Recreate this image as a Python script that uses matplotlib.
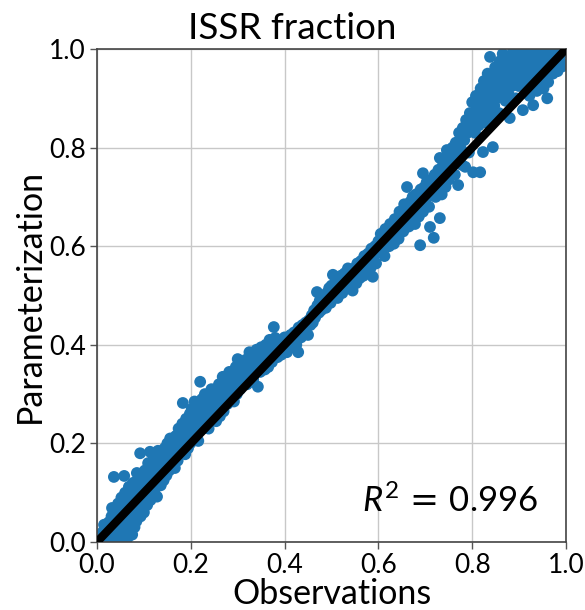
import matplotlib
matplotlib.use("Agg")
import matplotlib.pyplot as plt

plt.rcParams['font.family'] = ['Lato', 'DejaVu Sans']
plt.rcParams['mathtext.fontset'] = 'custom'
plt.rcParams['mathtext.rm'] = 'Lato'
plt.rcParams['mathtext.it'] = 'Lato:italic'
plt.rcParams['mathtext.sf'] = 'DejaVu Sans'

title = "ISSR fraction"
x_label = "Observations"
y_label = "Parameterization"
r2_text = r"$R^2\,\mathsf{=}\,0.996$"
ticks = [0.0, 0.2, 0.4, 0.6, 0.8, 1.0]
tick_labels = ["0.0", "0.2", "0.4", "0.6", "0.8", "1.0"]

obs_low = [0.005, 0.008, 0.010, 0.012, 0.015, 0.018, 0.020, 0.022, 0.025, 0.027, 0.030, 0.031, 0.033,
           0.035, 0.036, 0.038, 0.040, 0.042, 0.044, 0.045, 0.047, 0.049, 0.050, 0.052, 0.054, 0.055,
           0.057, 0.058, 0.060, 0.062, 0.063, 0.065, 0.067, 0.068, 0.070, 0.072, 0.073, 0.075, 0.077,
           0.078, 0.080, 0.082, 0.084, 0.085, 0.087, 0.089, 0.090, 0.092, 0.093, 0.095, 0.097, 0.099,
           0.032, 0.015, 0.025, 0.040, 0.065, 0.075, 0.080, 0.055]
par_low = [0.000, 0.012, 0.004, 0.020, 0.008, 0.030, 0.014, 0.002, 0.040, 0.022, 0.010, 0.052, 0.030,
           0.016, 0.132, 0.064, 0.044, 0.024, 0.008, 0.078, 0.056, 0.036, 0.018, 0.090, 0.070, 0.048,
           0.028, 0.134, 0.100, 0.080, 0.058, 0.040, 0.022, 0.112, 0.092, 0.070, 0.050, 0.030, 0.120,
           0.100, 0.082, 0.060, 0.042, 0.140, 0.110, 0.090, 0.070, 0.180, 0.052, 0.125, 0.100, 0.080,
           0.069, 0.035, 0.003, 0.015, 0.008, 0.015, 0.030, 0.005]

obs_b = [0.100, 0.102, 0.104, 0.105, 0.107, 0.109, 0.110, 0.112, 0.113, 0.114, 0.116, 0.118, 0.120,
         0.121, 0.123, 0.125, 0.127, 0.128, 0.130, 0.132, 0.134, 0.136, 0.138, 0.140, 0.142, 0.144,
         0.146, 0.148, 0.150, 0.152, 0.154, 0.156, 0.158, 0.160, 0.162, 0.164, 0.166, 0.168, 0.170,
         0.172, 0.174, 0.176, 0.178, 0.180, 0.182, 0.184, 0.186, 0.188, 0.190, 0.192, 0.194, 0.196,
         0.198, 0.199]
par_b = [0.060, 0.145, 0.118, 0.095, 0.075, 0.160, 0.130, 0.105, 0.183, 0.085, 0.150, 0.120, 0.098,
         0.170, 0.140, 0.110, 0.160, 0.092, 0.185, 0.130, 0.150, 0.115, 0.175, 0.140, 0.125, 0.190,
         0.160, 0.135, 0.200, 0.170, 0.145, 0.210, 0.180, 0.155, 0.200, 0.170, 0.150, 0.215, 0.190,
         0.165, 0.230, 0.205, 0.180, 0.215, 0.240, 0.195, 0.225, 0.178, 0.250, 0.210, 0.190, 0.235,
         0.260, 0.200]

obs_c = [0.200, 0.202, 0.204, 0.206, 0.208, 0.210, 0.212, 0.214, 0.216, 0.218, 0.220, 0.222, 0.224,
         0.226, 0.228, 0.230, 0.232, 0.234, 0.236, 0.238, 0.240, 0.242, 0.244, 0.246, 0.248, 0.250,
         0.252, 0.254, 0.256, 0.258, 0.260, 0.262, 0.264, 0.266, 0.268, 0.270, 0.272, 0.274, 0.276,
         0.278, 0.280, 0.282, 0.284, 0.286, 0.288, 0.290, 0.292, 0.294, 0.296, 0.298, 0.183]
par_c = [0.230, 0.270, 0.210, 0.250, 0.285, 0.225, 0.260, 0.240, 0.205, 0.275, 0.325, 0.250, 0.290,
         0.230, 0.265, 0.300, 0.245, 0.280, 0.260, 0.230, 0.295, 0.270, 0.310, 0.250, 0.285, 0.265,
         0.305, 0.245, 0.290, 0.275, 0.320, 0.255, 0.300, 0.280, 0.335, 0.265, 0.310, 0.290, 0.330,
         0.280, 0.315, 0.345, 0.295, 0.325, 0.305, 0.340, 0.285, 0.320, 0.355, 0.300, 0.282]

obs_d = [0.300, 0.302, 0.305, 0.308, 0.310, 0.313, 0.315, 0.318, 0.320, 0.323, 0.325, 0.328, 0.330,
         0.333, 0.335, 0.338, 0.340, 0.343, 0.345, 0.348, 0.350, 0.353, 0.355, 0.358, 0.360, 0.363,
         0.365, 0.368, 0.370, 0.373, 0.375, 0.377, 0.380, 0.383, 0.385, 0.388, 0.390, 0.393, 0.395,
         0.398]
par_d = [0.371, 0.330, 0.310, 0.350, 0.325, 0.360, 0.335, 0.370, 0.320, 0.350, 0.385, 0.340, 0.365,
         0.330, 0.380, 0.355, 0.390, 0.315, 0.370, 0.345, 0.395, 0.360, 0.380, 0.350, 0.400, 0.375,
         0.355, 0.410, 0.385, 0.365, 0.400, 0.436, 0.414, 0.390, 0.375, 0.405, 0.395, 0.380, 0.410,
         0.400]

obs_e = [0.400, 0.403, 0.405, 0.408, 0.410, 0.413, 0.415, 0.418, 0.420, 0.423, 0.425, 0.429, 0.430,
         0.433, 0.435, 0.438, 0.440, 0.443, 0.445, 0.450, 0.452, 0.455, 0.458, 0.460, 0.463, 0.465,
         0.469, 0.470, 0.473, 0.475, 0.478, 0.480, 0.483, 0.485, 0.488, 0.490, 0.493, 0.495, 0.498]
par_e = [0.415, 0.395, 0.385, 0.410, 0.400, 0.420, 0.405, 0.395, 0.425, 0.410, 0.400, 0.385, 0.435,
         0.420, 0.415, 0.440, 0.430, 0.425, 0.445, 0.420, 0.450, 0.440, 0.460, 0.445, 0.470, 0.455,
         0.507, 0.480, 0.465, 0.490, 0.470, 0.495, 0.480, 0.500, 0.475, 0.505, 0.490, 0.515, 0.485]

obs_f = [0.500, 0.503, 0.505, 0.508, 0.510, 0.513, 0.515, 0.518, 0.520, 0.523, 0.525, 0.528, 0.530,
         0.533, 0.535, 0.538, 0.540, 0.543, 0.545, 0.548, 0.550, 0.553, 0.555, 0.558, 0.560, 0.563,
         0.565, 0.568, 0.570, 0.573, 0.575, 0.578, 0.580, 0.583, 0.585, 0.588, 0.590, 0.593, 0.595,
         0.598]
par_f = [0.520, 0.542, 0.500, 0.525, 0.510, 0.495, 0.530, 0.515, 0.540, 0.505, 0.525, 0.545, 0.515,
         0.535, 0.555, 0.520, 0.545, 0.530, 0.510, 0.555, 0.540, 0.525, 0.565, 0.550, 0.535, 0.570,
         0.555, 0.540, 0.580, 0.560, 0.545, 0.585, 0.570, 0.555, 0.595, 0.538, 0.580, 0.600, 0.565,
         0.590]

obs_g = [0.600, 0.603, 0.605, 0.608, 0.610, 0.613, 0.615, 0.618, 0.620, 0.623, 0.625, 0.628, 0.630,
         0.633, 0.635, 0.638, 0.640, 0.643, 0.645, 0.648, 0.650, 0.653, 0.655, 0.658, 0.661, 0.663,
         0.665, 0.668, 0.670, 0.673, 0.675, 0.678, 0.680, 0.683, 0.686, 0.689, 0.690, 0.693, 0.695,
         0.698]
par_g = [0.610, 0.590, 0.625, 0.600, 0.615, 0.580, 0.635, 0.610, 0.625, 0.600, 0.645, 0.620, 0.635,
         0.605, 0.655, 0.625, 0.645, 0.615, 0.670, 0.640, 0.660, 0.630, 0.685, 0.650, 0.720, 0.670,
         0.640, 0.690, 0.660, 0.700, 0.675, 0.645, 0.705, 0.680, 0.660, 0.602, 0.715, 0.690, 0.670,
         0.720]

obs_h = [0.700, 0.703, 0.705, 0.708, 0.710, 0.712, 0.715, 0.718, 0.720, 0.722, 0.725, 0.728, 0.731,
         0.733, 0.735, 0.738, 0.740, 0.743, 0.746, 0.748, 0.750, 0.753, 0.755, 0.758, 0.760, 0.763,
         0.765, 0.768, 0.770, 0.772, 0.775, 0.778, 0.780, 0.783, 0.785, 0.787, 0.790, 0.793, 0.795,
         0.798, 0.695, 0.731]
par_h = [0.690, 0.730, 0.700, 0.680, 0.639, 0.735, 0.710, 0.617, 0.745, 0.700, 0.725, 0.755, 0.657,
         0.730, 0.705, 0.770, 0.745, 0.720, 0.795, 0.760, 0.735, 0.780, 0.755, 0.800, 0.775, 0.745,
         0.810, 0.785, 0.724, 0.830, 0.800, 0.765, 0.840, 0.815, 0.761, 0.856, 0.830, 0.790, 0.870,
         0.845, 0.748, 0.779]

obs_i = [0.800, 0.802, 0.804, 0.806, 0.808, 0.810, 0.812, 0.814, 0.817, 0.818, 0.820, 0.822, 0.823,
         0.825, 0.827, 0.829, 0.831, 0.833, 0.835, 0.837, 0.838, 0.840, 0.842, 0.844, 0.845, 0.847,
         0.849, 0.851, 0.853, 0.855, 0.857, 0.859, 0.861, 0.863, 0.865, 0.867, 0.869, 0.871, 0.873,
         0.875, 0.877, 0.880, 0.881, 0.883, 0.885, 0.887, 0.889, 0.891, 0.893, 0.895, 0.897, 0.899]
par_i = [0.892, 0.750, 0.860, 0.830, 0.905, 0.880, 0.876, 0.845, 0.750, 0.920, 0.895, 0.865, 0.791,
         0.935, 0.910, 0.880, 0.850, 0.950, 0.925, 0.895, 0.984, 0.865, 0.940, 0.801, 0.915, 0.885,
         0.963, 0.930, 0.900, 0.955, 0.870, 0.975, 0.945, 0.915, 0.990, 0.960, 0.930, 0.895, 0.970,
         0.945, 0.910, 0.860, 0.985, 0.955, 0.925, 0.995, 0.970, 0.940, 0.900, 0.985, 0.955, 0.925]

obs_j = [0.901, 0.903, 0.905, 0.908, 0.910, 0.912, 0.914, 0.916, 0.918, 0.920, 0.922, 0.924, 0.926,
         0.928, 0.930, 0.932, 0.934, 0.936, 0.938, 0.940, 0.942, 0.944, 0.946, 0.948, 0.950, 0.952,
         0.954, 0.956, 0.958, 0.960, 0.962, 0.964, 0.966, 0.968, 0.970, 0.972, 0.975, 0.977, 0.980,
         0.982, 0.985, 0.988, 0.990, 0.993, 0.996]
par_j = [0.965, 0.990, 0.940, 0.876, 0.975, 0.950, 0.920, 0.995, 0.960, 0.935, 0.905, 0.980, 0.955,
         0.925, 0.886, 0.995, 0.970, 0.945, 0.915, 0.985, 0.960, 0.935, 0.995, 0.975, 0.950, 0.920,
         0.990, 0.965, 0.940, 0.900, 0.933, 0.985, 0.960, 0.995, 0.975, 0.950, 0.990, 0.965, 0.985,
         0.955, 0.995, 0.975, 0.990, 0.965, 0.995]

obs_all = obs_low + obs_b + obs_c + obs_d + obs_e + obs_f + obs_g + obs_h + obs_i + obs_j
par_all = par_low + par_b + par_c + par_d + par_e + par_f + par_g + par_h + par_i + par_j

fig = plt.figure(figsize=(5.85, 6.10), dpi=100)
ax = fig.add_axes([97 / 585, 1 - 542 / 610, 469 / 585, 493 / 610])

ax.grid(True, color='#c8c8c8', linewidth=1.0, zorder=0)
ax.set_axisbelow(True)
ax.scatter(obs_all, par_all, s=72, color='#1f77b4', edgecolors='none', zorder=2)
ax.plot([0, 1], [0, 1], color='black', linewidth=6, zorder=3, solid_capstyle='butt')

ax.set_xlim(0, 1)
ax.set_ylim(0, 1)
ax.set_xticks(ticks)
ax.set_xticklabels(tick_labels)
ax.set_yticks(ticks)
ax.set_yticklabels(tick_labels)
ax.tick_params(labelsize=19, length=5, width=1, color='#555555', pad=3)
for sp in ax.spines.values():
    sp.set_color('#444444')
    sp.set_linewidth(1.2)

ax.set_xlabel(x_label, fontsize=24.5, labelpad=0)
ax.set_ylabel(y_label, fontsize=24.5, labelpad=2)
fig.text(0.5, 1 - 39 / 610, title, fontsize=26.5, ha='center', va='baseline')
ax.text(0.94, 0.06, r2_text, transform=ax.transAxes, fontsize=25, ha='right', va='baseline')

fig.savefig('out.png', dpi=100)
